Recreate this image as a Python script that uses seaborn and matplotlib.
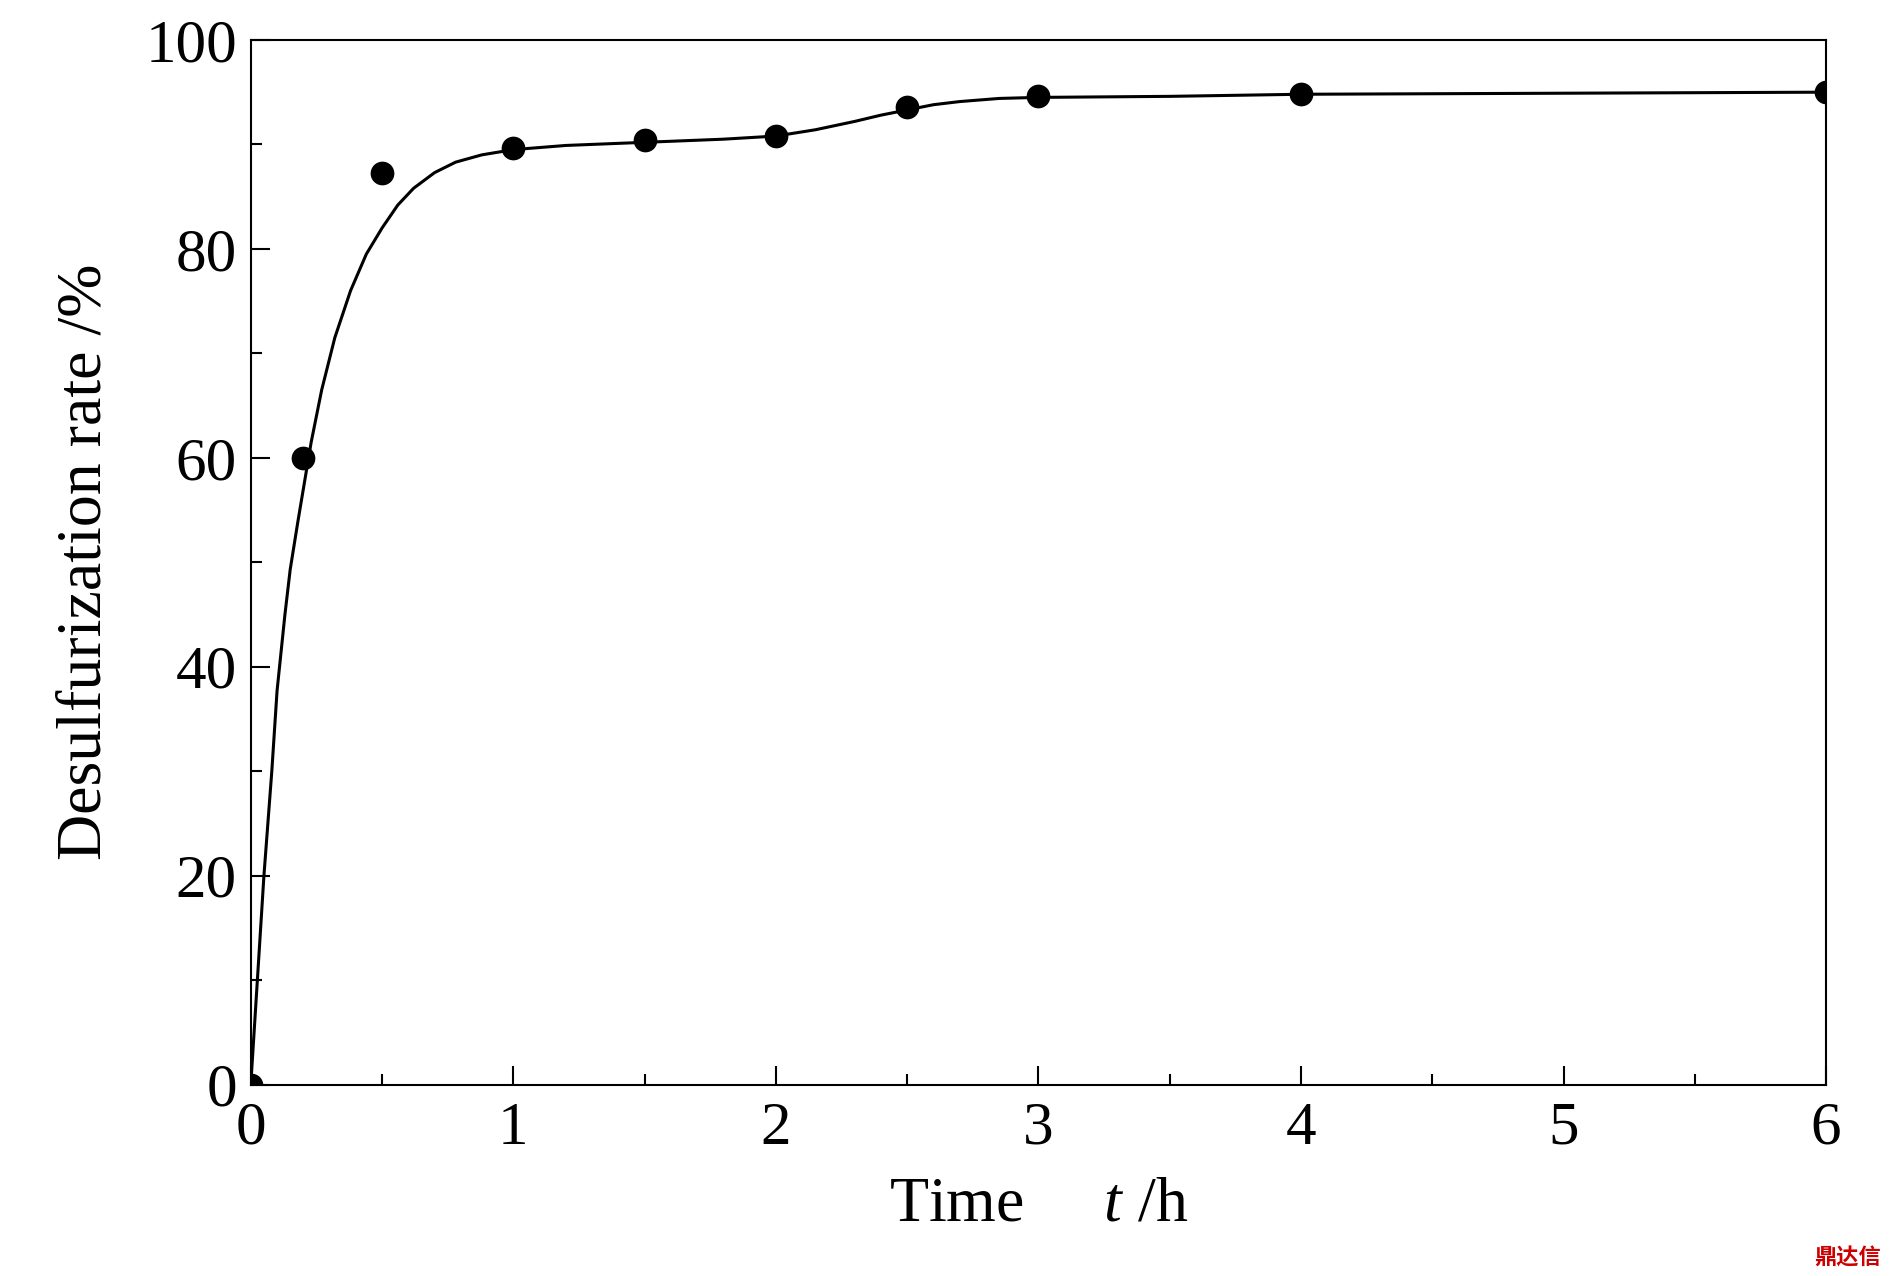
import matplotlib
matplotlib.use("Agg")
import matplotlib.pyplot as plt
import seaborn as sns
import pandas as pd
from matplotlib.ticker import MultipleLocator

time_pts = [0, 0.2, 0.5, 1, 1.5, 2, 2.5, 3, 4, 6]
rate_pts = [0, 60, 87.3, 89.7, 90.4, 90.8, 93.6, 94.6, 94.8, 95.0]

curve_t = [0, 0.03, 0.05, 0.08, 0.1, 0.13, 0.15, 0.18, 0.2, 0.23, 0.27, 0.32, 0.38, 0.44, 0.5, 0.56,
           0.62, 0.7, 0.78, 0.88, 1.0, 1.2, 1.5, 1.8, 2.0, 2.15, 2.3, 2.4, 2.5, 2.6, 2.7, 2.85, 3.0, 3.5, 4.0, 5.0, 6.0]
curve_y = [0, 12, 20, 30, 37.7, 45, 49.3, 54, 57, 61.5, 66.5, 71.5, 76, 79.5, 82, 84.2,
           85.8, 87.3, 88.3, 89.0, 89.5, 89.9, 90.2, 90.5, 90.8, 91.4, 92.2, 92.8, 93.3, 93.8, 94.1, 94.4, 94.5, 94.6, 94.8, 94.9, 95.0]

plt.rcParams["font.family"] = "Liberation Serif"
plt.rcParams["mathtext.fontset"] = "custom"
plt.rcParams["mathtext.it"] = "Liberation Serif:italic"
plt.rcParams["mathtext.rm"] = "Liberation Serif"
fig = plt.figure(figsize=(18.9, 12.76), dpi=100)
ax = fig.add_axes([0.1327, 0.15, 0.8335, 0.8187])
sns.lineplot(data=pd.DataFrame({"t": curve_t, "y": curve_y}), x="t", y="y", ax=ax, color="black", lw=2.2)
sns.scatterplot(data=pd.DataFrame({"t": time_pts, "y": rate_pts}), x="t", y="y", ax=ax,
                color="black", s=250, edgecolor="black", zorder=5, clip_on=True)
ax.set_xlim(0, 6)
ax.set_ylim(0, 100)
ax.xaxis.set_major_locator(MultipleLocator(1))
ax.xaxis.set_minor_locator(MultipleLocator(0.5))
ax.yaxis.set_major_locator(MultipleLocator(20))
ax.yaxis.set_minor_locator(MultipleLocator(10))
ax.tick_params(which="both", direction="in", labelsize=44, width=1.5)
ax.tick_params(which="major", length=14)
ax.tick_params(which="minor", length=8)
ax.tick_params(axis="x", pad=12)
ax.tick_params(axis="y", pad=10)
for s in ax.spines.values():
    s.set_linewidth(1.5)
ax.set_xlabel(r"Time     $\it{t}$ /h", fontsize=46, labelpad=14)
ax.set_ylabel("Desulfurization rate /%", fontsize=46, labelpad=22)
fig.text(0.995, 0.005, "鼎达信", fontsize=16, color="#cc0000", ha="right", va="bottom",
         fontfamily="Noto Sans CJK SC", fontweight="bold")
fig.savefig("out.png", dpi=100, facecolor="white")
